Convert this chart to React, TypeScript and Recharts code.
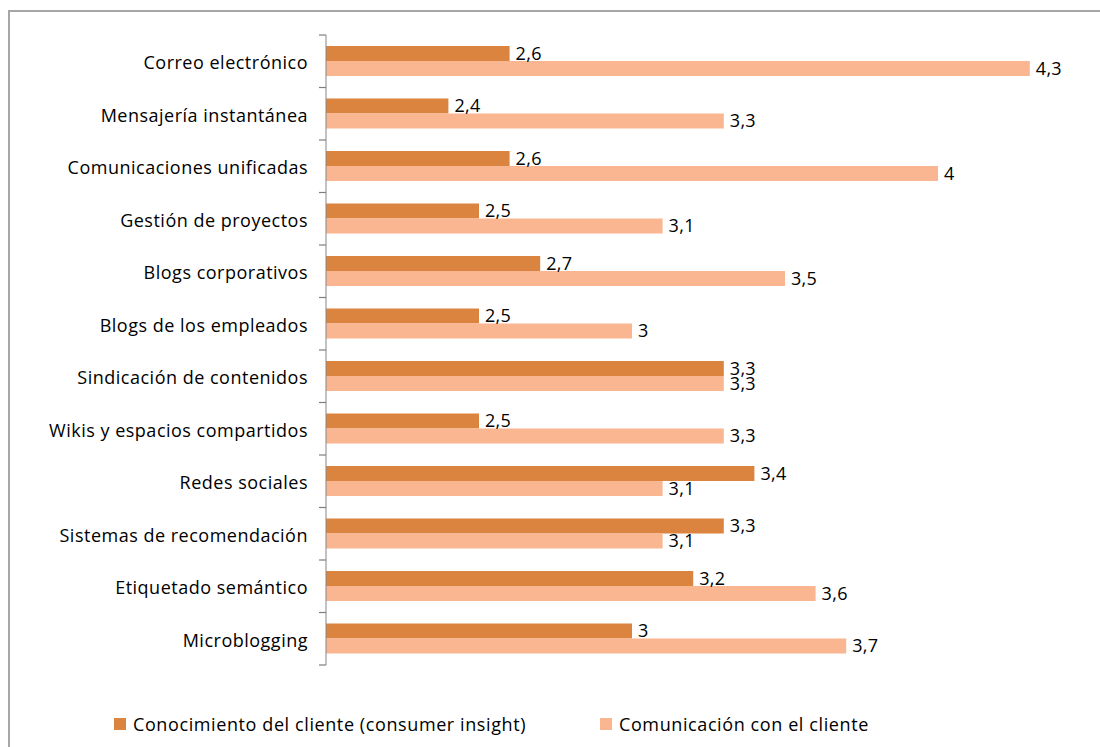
import { Bar, BarChart, LabelList, Legend, XAxis, YAxis } from "recharts";

const categories = [
  "Correo electrónico",
  "Mensajería instantánea",
  "Comunicaciones unificadas",
  "Gestión de proyectos",
  "Blogs corporativos",
  "Blogs de los empleados",
  "Sindicación de contenidos",
  "Wikis y espacios compartidos",
  "Redes sociales",
  "Sistemas de recomendación",
  "Etiquetado semántico",
  "Microblogging"
];

const insight = [2.6, 2.4, 2.6, 2.5, 2.7, 2.5, 3.3, 2.5, 3.4, 3.3, 3.2, 3];
const comunicacion = [4.3, 3.3, 4, 3.1, 3.5, 3, 3.3, 3.3, 3.1, 3.1, 3.6, 3.7];

const seriesNames = [
  "Conocimiento del cliente (consumer insight)",
  "Comunicación con el cliente"
];

const DARK = "#db843f";
const LIGHT = "#f9b690";
const FONT = "'Open Sans', sans-serif";
const PLOT_TOP = 35;
const PLOT_BOTTOM = 665;
const AXIS_X = 326;

const data = categories.map((name, i) => ({
  name,
  insight: insight[i],
  comunicacion: comunicacion[i]
}));

const fmt = (v: unknown) => (typeof v === "number" ? String(v).replace(".", ",") : "");

// boundary tick marks between categories, like the source chart
function CategoryTick(props: any) {
  const { y, payload, index } = props;
  const half = (PLOT_BOTTOM - PLOT_TOP) / categories.length / 2;
  return (
    <g>
      <text
        x={AXIS_X - 18}
        y={y + 3}
        textAnchor="end"
        dominantBaseline="middle"
        fontFamily={FONT}
        fontSize={18}
        letterSpacing={0.5}
        fill="#000"
      >
        {payload.value}
      </text>
      <path d={`M${AXIS_X - 7},${y - half}H${AXIS_X}`} stroke="#7f7f7f" strokeWidth={1.2} fill="none" />
      {index === categories.length - 1 && (
        <path d={`M${AXIS_X - 7},${y + half}H${AXIS_X}`} stroke="#7f7f7f" strokeWidth={1.2} fill="none" />
      )}
    </g>
  );
}

function LegendBox() {
  const item = (color: string, label: string, left: number) => (
    <div style={{ position: "absolute", left, top: 0, display: "flex", alignItems: "center" }}>
      <span style={{ display: "inline-block", width: 12, height: 12, background: color, marginRight: 7 }} />
      <span style={{ fontFamily: FONT, fontSize: 18, letterSpacing: 0.6, color: "#000" }}>{label}</span>
    </div>
  );
  return (
    <div style={{ position: "relative", height: 26 }}>
      {item(DARK, seriesNames[0], 114)}
      {item(LIGHT, seriesNames[1], 600)}
    </div>
  );
}

const labelStyle = { fontFamily: FONT, fontSize: 18, letterSpacing: 0.3, fill: "#000" };

export default function App() {
  return (
    <div style={{ position: "absolute", left: 0, top: 0, width: 1100, height: 747, background: "#fff", overflow: "hidden" }}>
      <div
        style={{
          position: "absolute",
          left: 8,
          top: 10,
          width: 1100,
          height: 747,
          borderTop: "2px solid #a6a6a6",
          borderLeft: "2px solid #a6a6a6"
        }}
      />
      <div style={{ position: "absolute", left: 0, top: 0 }}>
        <BarChart
          width={1100}
          height={747}
          data={data}
          layout="vertical"
          margin={{ top: PLOT_TOP, right: 9, bottom: 747 - PLOT_BOTTOM, left: 0 }}
          barGap={0}
        >
          <XAxis type="number" domain={[2, 4.5]} hide allowDataOverflow />
          <YAxis
            type="category"
            dataKey="name"
            width={AXIS_X}
            axisLine={{ stroke: "#868686" }}
            tickLine={false}
            tick={<CategoryTick />}
            interval={0}
          />
          <Legend
            verticalAlign="middle"
            align="center"
            wrapperStyle={{ top: 712, left: 0, width: 1100 }}
            content={() => <LegendBox />}
          />
          <Bar dataKey="insight" name={seriesNames[0]} fill={DARK} barSize={15} isAnimationActive={false}>
            <LabelList dataKey="insight" position="right" offset={6} formatter={fmt} style={labelStyle} />
          </Bar>
          <Bar dataKey="comunicacion" name={seriesNames[1]} fill={LIGHT} barSize={15} isAnimationActive={false}>
            <LabelList dataKey="comunicacion" position="right" offset={6} formatter={fmt} style={labelStyle} />
          </Bar>
        </BarChart>
      </div>
    </div>
  );
}
